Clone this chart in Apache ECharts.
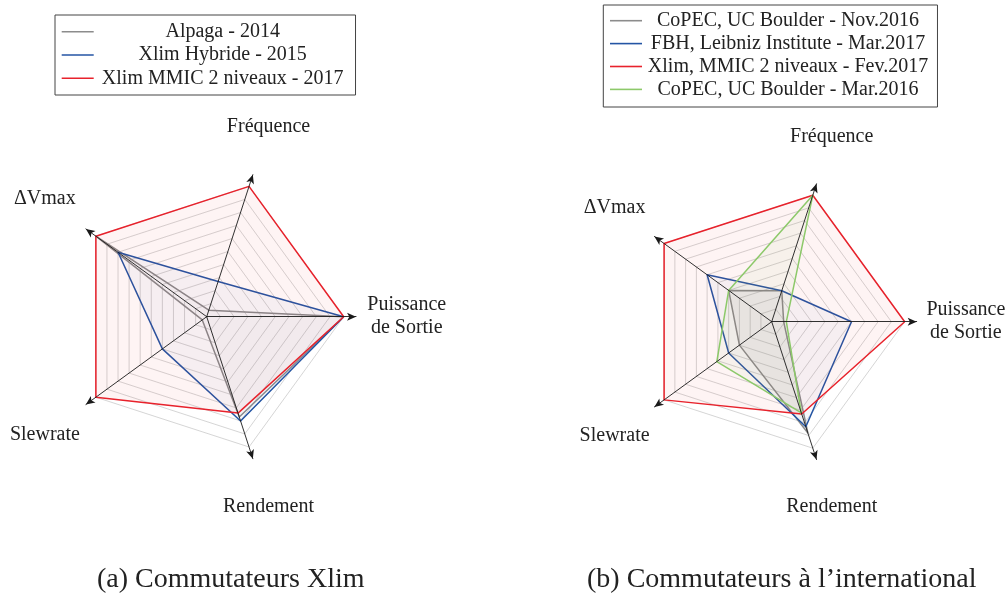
<!DOCTYPE html>
<html>
<head>
<meta charset="utf-8">
<script src="https://cdn.jsdelivr.net/npm/echarts@6/dist/echarts.min.js"></script>
<style>
  html, body { margin: 0; padding: 0; background: #ffffff; }
  #chart { width: 1007px; height: 601px; }
</style>
</head>
<body>
<div id="chart"></div>
<script>
// Radar axes, counter-clockwise starting from the right-hand axis
const axisNames = ['Puissance\nde Sortie', 'Fréquence', '\u0394Vmax', 'Slewrate', 'Rendement'];
const axisMax = 10;

// (a) Xlim switches
const xlimNames = ['Alpaga - 2014', 'Xlim Hybride - 2015', 'Xlim MMIC 2 niveaux - 2017'];
const alpaga2014 = [10, 0.5, 10, 0.4, 7.7];
const xlimHybride2015 = [10, 2.7, 8, 4, 8];
const xlimMmic2017 = [10, 10, 10, 10, 7.4];

// (b) International switches
const intlNames = ['CoPEC, UC Boulder - Nov.2016', 'FBH, Leibniz Institute - Mar.2017',
                   'Xlim, MMIC 2 niveaux - Fev.2017', 'CoPEC, UC Boulder - Mar.2016'];
const copecNov2016 = [0.9, 2.45, 4, 3, 8.8];
const fbhMar2017 = [6, 2.45, 6, 4, 8.3];
const xlimMmicFev2017 = [10, 10, 10, 10, 7.3];
const copecMar2016 = [1.1, 10, 4, 5.1, 7.2];

const captions = ['(a) Commutateurs Xlim', '(b) Commutateurs \u00e0 l\u2019international'];

const FONT = '"Liberation Serif", "DejaVu Serif", serif';
const TEXT = '#222222';
const COLORS = { gray: '#8c8c8c', blue: '#2455a4', red: '#e8222c', green: '#8dc96a' };

const panelA = { cx: 206.7, cy: 316.7, r: 137 };
const panelB = { cx: 771.7, cy: 321.7, r: 133 };

const indicators = axisNames.map(n => ({ name: n, min: 0, max: axisMax }));

function gridRadar(p) {
  return {
    center: [p.cx, p.cy], radius: p.r, startAngle: 0, shape: 'polygon',
    splitNumber: 10, indicator: indicators,
    axisName: { show: false },
    axisLine: { show: false }, axisTick: { show: false }, axisLabel: { show: false },
    splitLine: { show: true, lineStyle: { color: '#cacaca', width: 0.8 } },
    splitArea: { show: false },
    z: 1
  };
}
function arrowRadar(p) {
  return {
    center: [p.cx, p.cy], radius: p.r * 1.09, startAngle: 0, shape: 'polygon',
    splitNumber: 1, indicator: indicators,
    axisName: { show: false },
    axisLine: { show: true, symbol: ['none', 'arrow'], symbolSize: [6, 9],
                lineStyle: { color: '#1a1a1a', width: 0.9 } },
    axisTick: { show: false }, axisLabel: { show: false },
    splitLine: { show: false }, splitArea: { show: false },
    z: 4
  };
}

function radarSeries(radarIndex, name, values, color, areaOpacity, z) {
  return {
    type: 'radar', radarIndex: radarIndex, name: name, z: z,
    symbol: 'none', color: color,
    lineStyle: { color: color, width: 1.5 },
    areaStyle: { color: color, opacity: areaOpacity },
    emphasis: { disabled: true },
    data: [{ name: name, value: values }]
  };
}

function axisLabels(p) {
  const k = 1.46;
  return axisNames.map((n, i) => {
    const a = i * 2 * Math.PI / axisNames.length;
    return {
      type: 'text', silent: true,
      x: p.cx + k * p.r * Math.cos(a), y: p.cy - k * p.r * Math.sin(a),
      style: { text: n, fill: TEXT, font: '20px ' + FONT, align: 'center',
               verticalAlign: 'middle', lineHeight: 23 }
    };
  });
}

function legendBox(names, left, top, padding, textWidth, gap) {
  return {
    data: names, orient: 'vertical', left: left, top: top, padding: padding,
    itemGap: gap, itemWidth: 32, itemHeight: 1.6, icon: 'rect',
    borderColor: '#444444', borderWidth: 1, borderRadius: 0,
    selectedMode: false,
    formatter: n => '{t|' + n + '}',
    textStyle: { rich: { t: { width: textWidth, align: 'center', fontSize: 20,
                              fontFamily: FONT, color: TEXT } } }
  };
}

const chart = echarts.init(document.getElementById('chart'), null, { renderer: 'canvas' });
chart.setOption({
  backgroundColor: '#ffffff',
  animation: false,
  radar: [gridRadar(panelA), arrowRadar(panelA), gridRadar(panelB), arrowRadar(panelB)],
  legend: [
    legendBox(xlimNames, 55, 15, [6.7, 12, 6.7, 6.7], 248, 3.3),
    legendBox(intlNames, 603.3, 5, [5.7, 9.3, 7.6, 6.7], 282, 2.9)
  ],
  series: [
    radarSeries(0, xlimNames[0], alpaga2014, COLORS.gray, 0.035, 2),
    radarSeries(0, xlimNames[1], xlimHybride2015, COLORS.blue, 0.035, 3),
    radarSeries(0, xlimNames[2], xlimMmic2017, COLORS.red, 0.05, 3.5),
    radarSeries(2, intlNames[0], copecNov2016, COLORS.gray, 0.08, 2),
    radarSeries(2, intlNames[1], fbhMar2017, COLORS.blue, 0.035, 2.5),
    radarSeries(2, intlNames[2], xlimMmicFev2017, COLORS.red, 0.05, 3),
    radarSeries(2, intlNames[3], copecMar2016, COLORS.green, 0.06, 3.5)
  ],
  graphic: [].concat(
    axisLabels(panelA), axisLabels(panelB),
    [
      { type: 'text', silent: true, x: 97, y: 580,
        style: { text: captions[0], fill: TEXT, font: '28px ' + FONT, align: 'left', verticalAlign: 'middle' } },
      { type: 'text', silent: true, x: 587, y: 580,
        style: { text: captions[1], fill: TEXT, font: '28px ' + FONT, align: 'left', verticalAlign: 'middle' } }
    ]
  )
});
</script>
</body>
</html>
